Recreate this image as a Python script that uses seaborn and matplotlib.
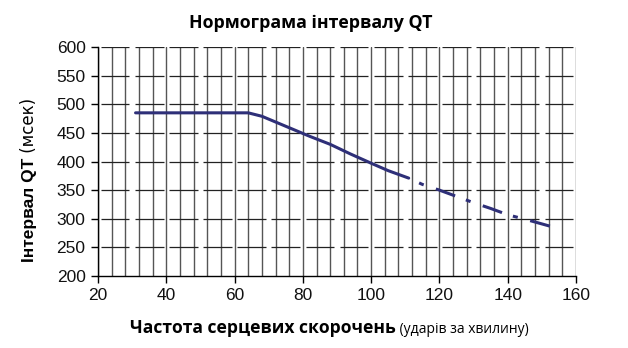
import numpy as np
import pandas as pd
import matplotlib
matplotlib.use("Agg")
import matplotlib.pyplot as plt
from matplotlib.ticker import MultipleLocator
import seaborn as sns

# ---- data ----
hr_solid = [31, 64, 68, 72, 76, 82, 88, 94, 100, 105, 111]
qt_solid = [485, 485, 479, 469, 459, 444, 430, 413, 397, 384, 371]
hr_dashed = [111, 115, 120, 125, 130, 135, 140, 147, 153]
qt_dashed = [371, 360, 350, 339, 328, 318, 307, 296, 286]

x_ticks = [20, 40, 60, 80, 100, 120, 140, 160]
y_ticks = [200, 250, 300, 350, 400, 450, 500, 550, 600]

title = "Нормограма інтервалу QT"
xlabel_bold = "Частота серцевих скорочень"
xlabel_norm = " (ударів за хвилину)"
ylabel_bold = "Інтервал QT"
ylabel_norm = " (мсек)"

sns.set_style("white")
plt.rcParams["font.family"] = ["Liberation Sans", "DejaVu Sans"]

W, H = 628, 348
fig = plt.figure(figsize=(W / 100, H / 100), dpi=100)
ax = fig.add_axes([98 / W, 1 - 276 / H, (576 - 98) / W, (276 - 47) / H])

line_color = "#2e2f78"
df1 = pd.DataFrame({"hr": hr_solid, "qt": qt_solid})
df2 = pd.DataFrame({"hr": hr_dashed, "qt": qt_dashed})
sns.lineplot(data=df1, x="hr", y="qt", ax=ax, color=line_color, lw=2.2, zorder=5)
sns.lineplot(data=df2, x="hr", y="qt", ax=ax, color=line_color, lw=2.2, zorder=5,
             linestyle=(6.7, (6.7, 3.75, 1.64, 4.2)))

ax.set_xlim(x_ticks[0], x_ticks[-1])
ax.set_ylim(y_ticks[0], y_ticks[-1])
ax.set_xticks(x_ticks)
ax.set_yticks(y_ticks)
ax.xaxis.set_minor_locator(MultipleLocator(4))

# vertical grid lines every 4 units
ax.grid(False)
ax.grid(True, which="both", axis="x", color="#555555", lw=1.0)
# horizontal grid lines (broken segments as in the reference)
for yv in y_ticks[1:]:
    starts = np.arange(x_ticks[0], x_ticks[-1], 10)
    ax.hlines([yv] * len(starts), starts + 0.8, starts + 9.2, color="#222222", lw=0.9, zorder=1)

for s in ["top", "right"]:
    ax.spines[s].set_visible(False)
for s in ["left", "bottom"]:
    ax.spines[s].set_color("black")
    ax.spines[s].set_linewidth(1.0)
    ax.spines[s].set_zorder(6)

ax.tick_params(axis="x", which="major", length=5, width=1, color="black", direction="out",
               labelsize=12.5, pad=4, bottom=True)
ax.tick_params(axis="x", which="minor", length=0)
ax.tick_params(axis="y", which="major", length=5, width=1, color="black", direction="out",
               labelsize=12.5, pad=4, left=True)
for lab in ax.get_xticklabels() + ax.get_yticklabels():
    lab.set_color("#111111")
ax.set_xlabel("")
ax.set_ylabel("")

# title
fig.text(0.495, 1 - 28 / H, title, ha="center", va="baseline", color="black",
         family=["Open Sans", "DejaVu Sans"], weight="bold", fontsize=12.8)

# x label (bold + normal parts)
fig.canvas.draw()
r = fig.canvas.get_renderer()
t1 = fig.text(130 / W, 1 - 333 / H, xlabel_bold, ha="left", va="baseline", color="black",
              family=["Open Sans", "DejaVu Sans"], weight="bold", fontsize=12.6)
bb = t1.get_window_extent(r)
fig.text(bb.x1 / W, 1 - 333 / H, xlabel_norm, ha="left", va="baseline", color="black",
         family=["Open Sans", "DejaVu Sans"], fontsize=10)

# y label (bold + normal parts), rotated
t3 = fig.text(34 / W, 1 - 262 / H, ylabel_bold, ha="left", va="baseline", rotation=90,
              rotation_mode="anchor", family=["Liberation Sans", "DejaVu Sans"], weight="bold",
              fontsize=12.5, color="black")
bb3 = t3.get_window_extent(r)
fig.text(34 / W, bb3.y1 / H, ylabel_norm, ha="left", va="baseline", rotation=90,
         rotation_mode="anchor", family=["DejaVu Sans"], fontsize=12, color="black")

fig.savefig("out.png", dpi=100)
